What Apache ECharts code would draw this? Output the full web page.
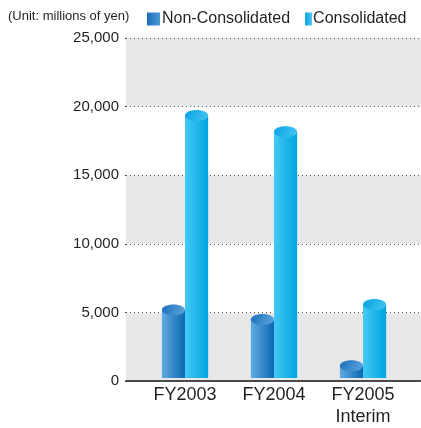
<!DOCTYPE html>
<html>
<head>
<meta charset="utf-8">
<script src="https://cdn.jsdelivr.net/npm/echarts@6/dist/echarts.min.js"></script>
<style>
  html, body { margin: 0; padding: 0; background: #fff; }
  #chart { width: 421px; height: 428px; }
</style>
</head>
<body>
<div id="chart"></div>
<script>
// Ordinary profit, millions of yen
const categories = ['FY2003', 'FY2004', 'FY2005\nInterim'];
const nonConsolidated = [5000, 4300, 900];
const consolidated = [19300, 18100, 5400];
const yTicks = [0, 5000, 10000, 15000, 20000, 25000];

const FONT = '"Liberation Sans", Arial, Helvetica, sans-serif';
const TEXT = '#231f20';

function grad(x0, y0, x1, y1, c0, c1) {
  return new echarts.graphic.LinearGradient(x0, y0, x1, y1, [
    { offset: 0, color: c0 },
    { offset: 1, color: c1 }
  ]);
}

const styles = {
  non: {
    body: ['#62abe0', '#0a68b3'],
    cap: ['#1b6fbb', '#5ea6dd'],
    legend: ['#1b6cb8', '#4f9ad8']
  },
  con: {
    body: ['#44c9f4', '#00a4df'],
    cap: ['#05a2e2', '#48c6f2'],
    legend: ['#00a2de', '#53c9f2']
  }
};

// Cylinder drawn from the value scale: flat base at 0, elliptical cap at the value
function cylinder(side, st) {
  return function (params, api) {
    const cat = api.value(0);
    const v = api.value(1);
    const base = api.coord([cat, 0]);
    const top = api.coord([cat, v]);
    const band = api.size([1, 0])[0];
    const w = band * 0.26;
    const cx = base[0] + side * w / 2;
    const ry = 5.5;
    return {
      type: 'group',
      children: [
        {
          type: 'rect',
          shape: { x: cx - w / 2, y: top[1], width: w, height: base[1] - top[1] },
          style: { fill: grad(0, 0, 1, 0, st.body[0], st.body[1]) }
        },
        {
          type: 'ellipse',
          shape: { cx: cx, cy: top[1], rx: w / 2, ry: ry },
          style: { fill: grad(0, 0, 1, 1, st.cap[0], st.cap[1]) }
        }
      ]
    };
  };
}

const chart = echarts.init(document.getElementById('chart'), null, { renderer: 'canvas' });

chart.setOption({
  animation: false,
  backgroundColor: '#fff',
  textStyle: { fontFamily: FONT, color: TEXT },
  title: {
    text: '(Unit: millions of yen)',
    left: 3,
    top: 5,
    textStyle: { fontFamily: FONT, fontSize: 13, fontWeight: 'normal', color: TEXT }
  },
  legend: {
    left: 142,
    top: 6,
    itemWidth: 13,
    itemHeight: 13,
    itemGap: 15,
    icon: 'rect',
    textStyle: { fontFamily: FONT, fontSize: 16, color: TEXT, padding: [0, 0, 0, -3] },
    data: [
      { name: 'Non-Consolidated', itemStyle: { color: grad(0, 0, 1, 0, styles.non.legend[0], styles.non.legend[1]) } },
      {
        name: 'Consolidated',
        icon: 'path://M0,0h7v13h-7z',
        textStyle: { padding: [0, 0, 0, -7] },
        itemStyle: { color: grad(0, 0, 1, 0, styles.con.legend[0], styles.con.legend[1]) }
      }
    ]
  },
  grid: [
    { left: 126, right: 0, top: 38, bottom: 47 },
    { left: 140.5, right: 13.5, top: 38, bottom: 47 }
  ],
  xAxis: [
    {
      gridIndex: 0,
      type: 'category',
      data: categories,
      axisLine: { show: true, lineStyle: { color: '#1a1a1a', width: 1.5 } },
      axisTick: { show: false },
      axisLabel: { show: false }
    },
    {
      gridIndex: 1,
      type: 'category',
      data: categories,
      axisLine: { show: false },
      axisTick: { show: false },
      axisLabel: {
        margin: 6,
        fontFamily: FONT,
        fontSize: 18,
        color: TEXT,
        lineHeight: 22
      }
    }
  ],
  yAxis: [
    {
      gridIndex: 0,
      type: 'value',
      min: yTicks[0],
      max: yTicks[yTicks.length - 1],
      interval: 5000,
      axisLine: { show: false },
      axisTick: { show: true, length: 3, lineStyle: { color: '#444', type: [1, 3] } },
      axisLabel: {
        margin: 7,
        fontFamily: FONT,
        fontSize: 15,
        color: TEXT,
        formatter: v => v.toLocaleString('en-US')
      },
      splitLine: { show: true, lineStyle: { color: '#555', width: 1, type: [1, 3] } },
      splitArea: { show: true, areaStyle: { color: ['#e6e7e8', '#ffffff'] } }
    },
    {
      gridIndex: 1,
      type: 'value',
      min: yTicks[0],
      max: yTicks[yTicks.length - 1],
      interval: 5000,
      show: false,
      splitLine: { show: false }
    }
  ],
  series: [
    {
      name: 'Non-Consolidated',
      type: 'custom',
      xAxisIndex: 1,
      yAxisIndex: 1,
      itemStyle: { color: grad(0, 0, 1, 0, styles.non.legend[0], styles.non.legend[1]) },
      renderItem: cylinder(-1, styles.non),
      encode: { x: 0, y: 1 },
      data: nonConsolidated.map((v, i) => [i, v])
    },
    {
      name: 'Consolidated',
      type: 'custom',
      xAxisIndex: 1,
      yAxisIndex: 1,
      itemStyle: { color: grad(0, 0, 1, 0, styles.con.legend[0], styles.con.legend[1]) },
      renderItem: cylinder(1, styles.con),
      encode: { x: 0, y: 1 },
      data: consolidated.map((v, i) => [i, v])
    }
  ]
});
</script>
</body>
</html>
